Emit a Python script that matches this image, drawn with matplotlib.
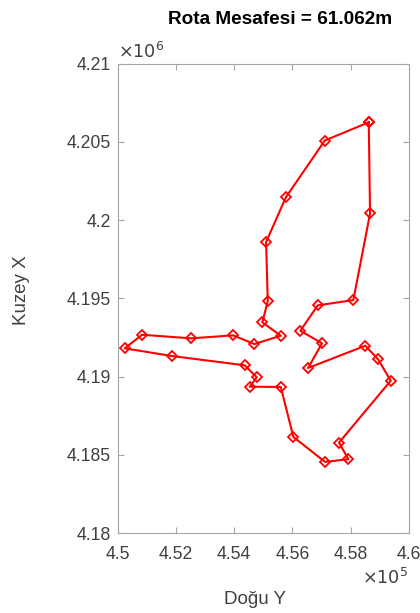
import numpy as np
import matplotlib.pyplot as plt

plt.rcParams['font.family'] = ['Liberation Sans', 'DejaVu Sans']

# route points (east = Dogu Y, north = Kuzey X), in visiting order
dogu_y = [458617, 457107, 455769, 455094, 455152, 454967, 455598, 454692,
          453962, 452521, 450840, 450247, 451859, 454363, 454775, 454534,
          455598, 456030, 457117, 457916, 457597, 459371, 458935, 458500,
          456534, 457014, 456270, 456867, 458088, 458661, 458617]
kuzey_x = [4206258, 4205090, 4201450, 4198595, 4194827, 4193467, 4192611, 4192081,
           4192637, 4192445, 4192675, 4191807, 4191315, 4190721, 4189955, 4189355,
           4189335, 4186142, 4184546, 4184718, 4185778, 4189738, 4191104, 4191973,
           4190549, 4192126, 4192931, 4194553, 4194891, 4200428, 4206258]

xticks = [450000, 452000, 454000, 456000, 458000, 460000]
xtick_labels = ['4.5', '4.52', '4.54', '4.56', '4.58', '4.6']
yticks = [4180000, 4185000, 4190000, 4195000, 4200000, 4205000, 4210000]
ytick_labels = ['4.18', '4.185', '4.19', '4.195', '4.2', '4.205', '4.21']

text_col = '#404040'
axis_col = '#a6a6a6'

fig = plt.figure(figsize=(4.2, 6.13), dpi=100)
ax = fig.add_axes([0.28, 0.1305, 0.694, 0.7655])

ax.plot(dogu_y, kuzey_x, color='#ff0000', linewidth=1.5,
        marker='D', markersize=5.5, markerfacecolor='none',
        markeredgecolor='#ff0000', markeredgewidth=1.3)

ax.set_xlim(450000, 460000)
ax.set_ylim(4180000, 4210000)
ax.set_xticks(xticks)
ax.set_xticklabels(xtick_labels)
ax.set_yticks(yticks)
ax.set_yticklabels(ytick_labels)

for s in ax.spines.values():
    s.set_color(axis_col)
    s.set_linewidth(0.8)
ax.tick_params(direction='in', top=True, right=True, length=4,
               color=axis_col, labelcolor=text_col, labelsize=12.7)
ax.tick_params(axis='x', pad=9)
ax.tick_params(axis='y', pad=5)

fig.text(0.668, 0.969, 'Rota Mesafesi = 61.062m', ha='center', va='center',
         fontsize=13.7, fontweight='bold', color='black')
fig.text(0.281, 0.899, r'$\times10^{6}$', ha='left', va='bottom',
         fontsize=12.7, color=text_col, math_fontfamily='dejavusans')
fig.text(0.972, 0.041, r'$\times10^{5}$', ha='right', va='bottom',
         fontsize=12.7, color=text_col, math_fontfamily='dejavusans')
fig.text(0.606, 0.022, 'Doğu Y', ha='center', va='center',
         fontsize=13.5, color=text_col)
fig.text(0.052, 0.527, 'Kuzey X', ha='center', va='center', rotation=90,
         fontsize=13.5, color=text_col)

fig.savefig('out.png', dpi=100)
